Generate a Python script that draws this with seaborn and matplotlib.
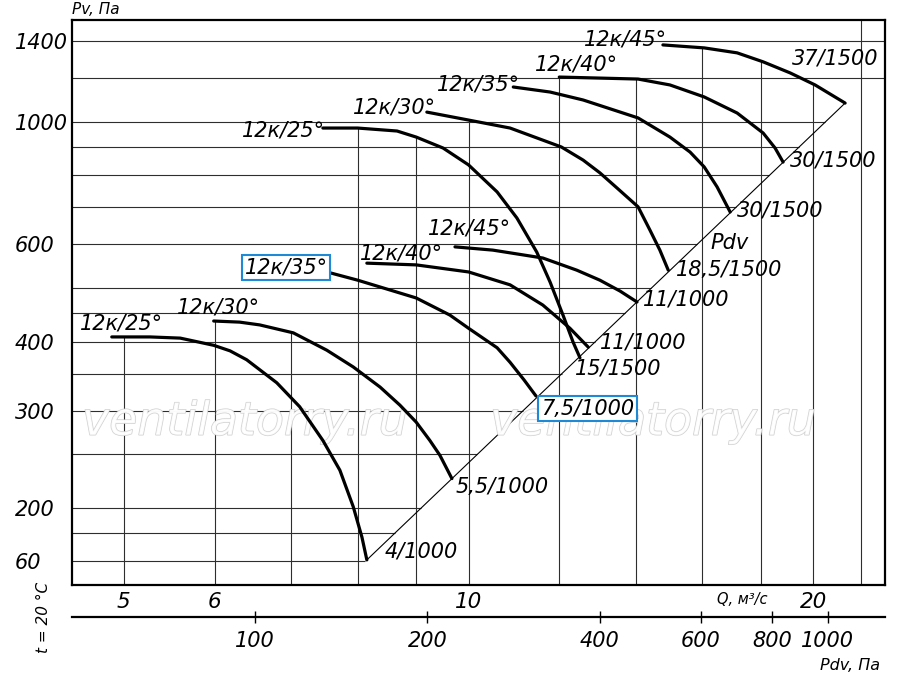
import numpy as np
import pandas as pd
import matplotlib
matplotlib.use("Agg")
import matplotlib.pyplot as plt
import matplotlib.patheffects as pe
from matplotlib.ticker import NullLocator
import seaborn as sns

# Аэродинамические характеристики 12к: Q (м3/с), Pv (Па)
q_25a = [4.88, 5.27, 5.60, 5.99, 6.19, 6.40, 6.80, 7.12, 7.46, 7.72, 7.93, 8.07, 8.15]
pv_25a = [408, 408, 406, 394, 385, 371, 337, 305, 265, 234, 201, 177, 161]
q_30a = [5.99, 6.31, 6.57, 7.03, 7.52, 7.93, 8.37, 8.71, 9.00, 9.25, 9.44, 9.67]
pv_30a = [436, 434, 429, 415, 386, 360, 331, 307, 286, 265, 249, 226]
q_35a = [7.42, 8.00, 9.00, 9.63, 10.00, 10.59, 10.87, 11.18, 11.45]
pv_35a = [539, 517, 480, 447, 423, 390, 367, 341, 319]
q_40a = [8.15, 9.00, 10.00, 10.87, 11.61, 12.26, 12.72]
pv_40a = [555, 551, 535, 507, 466, 423, 391]
q_45a = [9.73, 10.50, 11.61, 12.43, 13.02, 13.56, 14.03]
pv_45a = [594, 586, 567, 539, 517, 494, 472]

q_25b = [7.46, 8.00, 8.66, 9.00, 9.50, 10.00, 10.59, 11.02, 11.47, 11.78, 12.09, 12.34, 12.51]
pv_25b = [975, 975, 963, 939, 897, 836, 747, 670, 581, 513, 447, 399, 374]
q_30b = [9.195, 10.00, 10.87, 12.05, 12.59, 13.02, 13.48, 14.06, 14.40, 14.69, 14.94]
pv_30b = [1042, 1008, 975, 901, 853, 809, 759, 702, 637, 586, 539]
q_35b = [10.94, 11.78, 12.59, 14.06, 14.99, 15.61, 16.06, 16.48, 16.92]
pv_35b = [1157, 1133, 1096, 1017, 939, 882, 829, 763, 687]
q_40b = [12.00, 14.06, 14.99, 16.06, 17.16, 18.08, 18.52, 18.82]
pv_40b = [1206, 1196, 1167, 1110, 1038, 955, 897, 846]
q_45b = [14.78, 16.06, 17.16, 18.08, 19.09, 20.07, 21.32]
pv_45b = [1379, 1362, 1334, 1285, 1227, 1167, 1082]

curve_q = [q_25a, q_30a, q_35a, q_40a, q_45a, q_25b, q_30b, q_35b, q_40b, q_45b]
curve_pv = [pv_25a, pv_30a, pv_35a, pv_40a, pv_45a, pv_25b, pv_30b, pv_35b, pv_40b, pv_45b]
start_labels = ["12к/25°", "12к/30°", "12к/35°", "12к/40°", "12к/45°",
                "12к/25°", "12к/30°", "12к/35°", "12к/40°", "12к/45°"]
end_labels = ["4/1000", "5,5/1000", "7,5/1000", "11/1000", "11/1000",
              "15/1500", "18,5/1500", "30/1500", "30/1500", "37/1500"]

# сетка и оси
h_grid = [1400, 1200, 1000, 900, 800, 700, 600, 500, 450, 400, 350, 300, 250, 200, 180, 160]
v_grid = [5, 6, 7, 8, 9, 10, 12, 14, 16, 18, 20, 22]
y_ticks = [1400, 1000, 600, 400, 300, 200, 160]
y_tick_labels = ["1400", "1000", "600", "400", "300", "200", "60"]
q_ticks = [5, 6, 10, 20]
q_tick_labels = ["5", "6", "10", "20"]
pdv_ticks = [100, 200, 400, 600, 800, 1000]
pdv_tick_labels = ["100", "200", "400", "600", "800", "1000"]
K_DYN = 2.36  # Pdv = K * Q^2

XLIM = (4.505, 23.10)
YLIM = (145.0, 1530.0)

# смещения подписей (пиксели)
start_off = [(10, 13), (5, 14), (-34, 3), (35, 10), (15, 18),
             (-39, -2), (-32, 5), (-35, 3), (17, 13), (-37, 5)]
end_off = [(18, 8), (4, -8), (5, -13), (12, 5), (6, 2),
           (-5, -11), (8, 0), (7, 1), (7, 2), (-10, 45)]
boxed_start = {2}
boxed_end = {2}
BLUE = "#1e8ad6"

sns.set_style("white")
plt.rcParams["font.family"] = ["DejaVu Sans"]
plt.rcParams["font.style"] = "oblique"
plt.rcParams["text.color"] = "black"
plt.rcParams["xtick.color"] = "black"
plt.rcParams["ytick.color"] = "black"

fig = plt.figure(figsize=(9, 6.81), dpi=100)
ax = fig.add_axes([72 / 900, 1 - 585 / 681, 813 / 900, 565 / 681])
ax.set_xscale("log")
ax.set_yscale("log")
ax.set_xlim(*XLIM)
ax.set_ylim(*YLIM)

# линия динамического давления (через концы крайних кривых)
q0, p0 = curve_q[0][-1], curve_pv[0][-1]
q1, p1 = curve_q[-1][-1], curve_pv[-1][-1]
b = np.log(p1 / p0) / np.log(q1 / q0)


def q_on_diag(pv):
    return q0 * (pv / p0) ** (1.0 / b)


def envelope(q):
    best = None
    for qs, ps in zip(curve_q, curve_pv):
        if qs[0] <= q <= qs[-1]:
            v = 10 ** np.interp(np.log10(q), np.log10(qs), np.log10(ps))
            best = v if best is None else max(best, v)
    return YLIM[1] if best is None else best


grid_kw = dict(color="#2e2e2e", lw=0.8, zorder=1)
for pv in h_grid:
    right = XLIM[1] if pv > p1 else min(q_on_diag(pv), XLIM[1])
    ax.hlines(pv, XLIM[0], right, **grid_kw)
for q in v_grid:
    ax.vlines(q, YLIM[0], envelope(q), **grid_kw)

qd = np.array([q0, q1])
ax.plot(qd, p0 * (qd / q0) ** b, color="black", lw=0.8, zorder=2)

# водяной знак
for xf in (0.213, 0.715):
    ax.text(xf, 0.288, "ventilatorry.ru", transform=ax.transAxes, fontsize=33,
            ha="center", va="center", color="white", alpha=0.85, zorder=2,
            path_effects=[pe.withStroke(linewidth=1.0, foreground="#c8c8c8")])

rows = []
for i, (qs, ps) in enumerate(zip(curve_q, curve_pv)):
    for q, p in zip(qs, ps):
        rows.append({"curve": i, "Q": q, "Pv": p})
df = pd.DataFrame(rows)
sns.lineplot(data=df, x="Q", y="Pv", units="curve", estimator=None, sort=False,
             color="black", lw=2.3, ax=ax, zorder=4, legend=False)
for ln in ax.lines:
    ln.set_solid_joinstyle("round")

for i, (qs, ps) in enumerate(zip(curve_q, curve_pv)):
    box = dict(boxstyle="square,pad=0.12", fc="white", ec=BLUE, lw=1.5)
    ax.annotate(start_labels[i], (qs[0], ps[0]), xytext=start_off[i],
                textcoords="offset pixels", ha="center", va="center",
                fontsize=15, zorder=5,
                bbox=box if i in boxed_start else None)
    ax.annotate(end_labels[i], (qs[-1], ps[-1]), xytext=end_off[i],
                textcoords="offset pixels", ha="center" if i == 9 else "left",
                va="center", fontsize=15, zorder=5,
                bbox=box if i in boxed_end else None)

ax.text(16.9, 604, "Pdv", ha="center", va="center", fontsize=15, zorder=5)

# оси
for s in ax.spines.values():
    s.set_linewidth(1.6)
    s.set_color("black")
ax.set_xlabel("")
ax.set_ylabel("")
ax.set_yticks(y_ticks)
ax.set_yticklabels(y_tick_labels)
ax.yaxis.set_minor_locator(NullLocator())
ax.tick_params(axis="y", length=0, pad=41, labelsize=15)
for lab in ax.get_yticklabels():
    lab.set_horizontalalignment("left")
ax.set_xticks(q_ticks)
ax.set_xticklabels(q_tick_labels)
ax.xaxis.set_minor_locator(NullLocator())
ax.tick_params(axis="x", length=0, pad=5, labelsize=15.5)


def q2pdv(q):
    return K_DYN * np.asarray(q) ** 2


def pdv2q(p):
    return np.sqrt(np.abs(np.asarray(p)) / K_DYN)


sec = ax.secondary_xaxis(-32 / 565, functions=(q2pdv, pdv2q))
sec.set_xticks(pdv_ticks)
sec.set_xticklabels(pdv_tick_labels)
sec.xaxis.set_minor_locator(NullLocator())
sec.tick_params(direction="inout", length=8, width=1.0, pad=6, labelsize=15,
                colors="black")
sec.spines["bottom"].set_linewidth(1.6)
sec.spines["bottom"].set_color("black")

fig.text(72 / 900, 1 - 9 / 681, "Pv, Па", fontsize=11, ha="left", va="center")
fig.text(43 / 900, 1 - 617 / 681, "t = 20 °C", fontsize=11, rotation=90,
         ha="center", va="center")
fig.text(742 / 900, 1 - 600 / 681, "Q, м³/с", fontsize=10.5, ha="center", va="center")
fig.text(880 / 900, 1 - 665 / 681, "Pdv, Па", fontsize=11.5, ha="right", va="center")

fig.savefig("out.png", dpi=100)
